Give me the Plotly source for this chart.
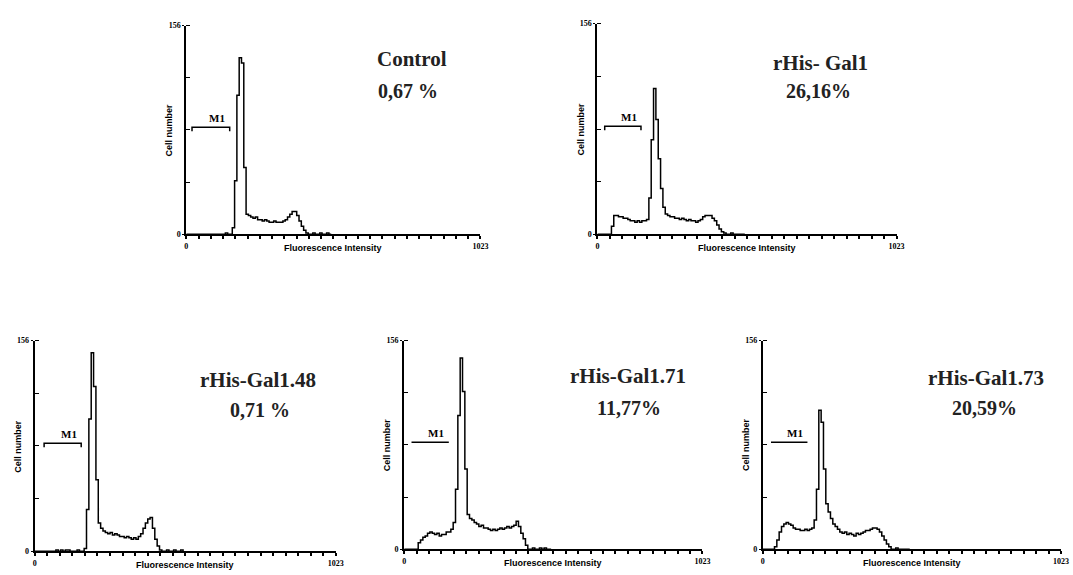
import plotly.graph_objects as go

# ---------------- data ----------------
channels = [0, 8, 16, 24, 32, 40, 48, 56, 64, 72, 80, 88, 96, 104, 112, 120,
            128, 136, 144, 152, 160, 168, 176, 184, 192, 200, 208, 216, 224, 232, 240, 248,
            256, 264, 272, 280, 288, 296, 304, 312, 320, 328, 336, 344, 352, 360, 368, 376,
            384, 392, 400, 408, 416, 424, 432, 440, 448, 456, 464, 472, 480, 488, 496, 504]

control = [0, 0, 0, 0, 0, 0, 0, 0, 0, 0, 0, 0, 0, 0, 0, 0, 0, 1, 0, 0,
           5, 40, 104, 132, 128, 50, 15, 14, 13, 12,
           13, 11, 11, 10, 11, 10, 9, 9, 10, 9,
           9, 9, 10, 11, 13, 15, 17, 17, 14, 10,
           6, 3, 1, 0, 0, 1, 0, 0, 1, 0, 0, 1, 0, 0]

gal1 = [0, 0, 0, 0, 0, 0,
        6, 14, 14, 13, 13, 12, 12, 11, 10, 10,
        9, 10, 9, 10, 10, 11, 27, 70, 108, 85,
        56, 34, 20, 15, 14, 13, 13, 12, 12, 11,
        12, 11, 10, 11, 10, 10, 9, 10, 11, 13,
        14, 14, 14, 12, 10, 7, 4, 2, 1, 0,
        0, 1, 0, 0, 0, 0, 0, 0]

gal1_48 = [0, 0, 0, 0, 0, 0, 0, 0, 0,
           1, 0, 1, 0, 1, 1, 0, 0, 0, 1, 0,
           0, 2, 31, 98, 147, 122, 53, 21, 17, 15,
           14, 13, 14, 12, 13, 12, 11, 11, 10, 11,
           10, 9, 10, 9, 11, 13, 17, 21, 24, 25,
           17, 9, 4, 1, 0, 0, 1, 0, 0, 1, 0, 0, 1, 0]

gal1_71 = [0, 0, 0, 0, 0, 0,
           5, 7, 9, 10, 12, 13, 12, 11, 12, 10,
           11, 11, 13, 13, 15, 20, 45, 100, 143, 118,
           60, 26, 23, 22, 20, 19, 17, 18, 16, 16,
           15, 14, 15, 14, 15, 16, 15, 16, 17, 16,
           17, 18, 21, 17, 12, 8, 3, 0, 0, 1,
           0, 0, 1, 0, 1, 0, 0, 0]

gal1_73 = [0, 0, 0, 0, 0,
           2, 7, 13, 17, 19, 20, 19, 18, 16, 15,
           15, 14, 14, 15, 14, 15, 16, 22, 45, 104,
           95, 60, 34, 28, 23, 19, 17, 15, 13, 12,
           13, 11, 12, 11, 10, 12, 11, 12, 13, 14,
           14, 15, 16, 16, 15, 13, 10, 7, 4, 2,
           0, 0, 1, 0, 0, 0, 0, 0, 0]

titles = ["Control", "rHis- Gal1", "rHis-Gal1.48", "rHis-Gal1.71", "rHis-Gal1.73"]
percents = ["0,67 %", "26,16%", "0,71 %", "11,77%", "20,59%"]
series = [control, gal1, gal1_48, gal1_71, gal1_73]

m1_start = [20, 25, 32, 25, 28]
m1_end = [151, 149, 158, 153, 153]
m1_level = [80, 80, 80, 80, 80]

y_max = 156
x_max = 1023
y_tick_vals = [0, 156]
y_tick_text = ["0", "156"]
x_tick_vals = [0, 1023]
x_tick_text = ["0", "1023"]
x_title = "Fluorescence Intensity"
y_title = "Cell number"

# ---------------- layout (pixel boxes) ----------------
W, H = 1073, 575
# (x0, x1, y_top, y_bottom) in pixels
boxes = [
    (186, 483, 22, 234),
    (601, 903, 20, 234),
    (33, 337, 342, 556),
    (406, 707, 342, 554),
    (768, 1069, 342, 554),
]
title_pos = [(414, 56), (826, 60), (258, 382), (632, 378), (993, 380)]
pct_pos = [(410, 88), (824, 88), (260, 412), (633, 410), (992, 410)]
m1_end_ticks = [True, True, True, False, False]


def px(x):
    return x / W


def py(y):
    return 1 - y / H


fig = go.Figure()
layout = dict(
    width=W, height=H,
    margin=dict(l=0, r=0, t=0, b=0),
    paper_bgcolor="white", plot_bgcolor="white",
    showlegend=False,
)
annotations = []
tickfont = dict(size=8, family="Liberation Serif", color="black", weight="bold")

for i in range(5):
    n = "" if i == 0 else str(i + 1)
    xa, ya = "x" + n, "y" + n
    x0, x1, yt, yb = boxes[i]

    fig.add_trace(go.Scatter(
        x=channels, y=series[i], xaxis=xa, yaxis=ya, mode="lines",
        line=dict(color="black", width=1.5, shape="hv"), hoverinfo="skip"))

    if m1_end_ticks[i]:
        mx = [m1_start[i], m1_start[i], m1_end[i], m1_end[i]]
        my = [m1_level[i] - 3, m1_level[i], m1_level[i], m1_level[i] - 3]
    else:
        mx = [m1_start[i], m1_end[i]]
        my = [m1_level[i], m1_level[i]]
    fig.add_trace(go.Scatter(x=mx, y=my, xaxis=xa, yaxis=ya, mode="lines",
                             line=dict(color="black", width=1.5), hoverinfo="skip"))
    annotations.append(dict(
        x=(m1_start[i] + m1_end[i]) / 2 + 20, y=m1_level[i], xref=xa, yref=ya,
        text="M1", showarrow=False, xanchor="center", yanchor="bottom", yshift=1,
        font=dict(size=11, family="Liberation Serif", color="black", weight="bold")))

    layout["xaxis" + n] = dict(
        domain=[px(x0), px(x1)], anchor=ya, range=[0, x_max],
        showline=True, linecolor="black", linewidth=2, showgrid=False, zeroline=False,
        tickvals=x_tick_vals, ticktext=x_tick_text, ticks="outside", ticklen=3,
        tickwidth=2, tickcolor="black", tickfont=tickfont,
        minor=dict(tick0=0, dtick=x_max / 24, ticks="outside", ticklen=3,
                   tickwidth=2, tickcolor="black", showgrid=False),
        fixedrange=True)
    layout["yaxis" + n] = dict(
        domain=[py(yb), py(yt)], anchor=xa, range=[0, y_max],
        showline=True, linecolor="black", linewidth=2, showgrid=False, zeroline=False,
        tickvals=y_tick_vals, ticktext=y_tick_text, ticks="outside", ticklen=2,
        tickwidth=1, tickcolor="black", tickfont=tickfont,
        minor=dict(tick0=0, dtick=y_max / 4, ticks="inside", ticklen=4,
                   tickwidth=1, tickcolor="black", showgrid=False),
        fixedrange=True)

    # axis titles
    annotations.append(dict(
        x=px((x0 + x1) / 2), y=py(yb + 14), xref="paper", yref="paper",
        text=x_title, showarrow=False, xanchor="center", yanchor="middle",
        font=dict(size=9, family="Liberation Sans", color="black", weight="bold")))
    annotations.append(dict(
        x=px(x0 - 17), y=py((yt + yb) / 2), xref="paper", yref="paper",
        text=y_title, showarrow=False, textangle=-90, xanchor="center", yanchor="middle",
        font=dict(size=9, family="Liberation Sans", color="black", weight="bold")))

    # panel title and percentage
    tx, ty = title_pos[i]
    annotations.append(dict(
        x=px(tx), y=py(ty), xref="paper", yref="paper", text=titles[i],
        showarrow=False, xanchor="center", yanchor="middle",
        font=dict(size=21, family="Liberation Serif", color="#222", weight="bold")))
    qx, qy = pct_pos[i]
    annotations.append(dict(
        x=px(qx), y=py(qy), xref="paper", yref="paper", text=percents[i],
        showarrow=False, xanchor="center", yanchor="middle",
        font=dict(size=20, family="Liberation Serif", color="#222", weight="bold")))

layout["annotations"] = annotations
fig.update_layout(**layout)
fig.write_html("out.html")
